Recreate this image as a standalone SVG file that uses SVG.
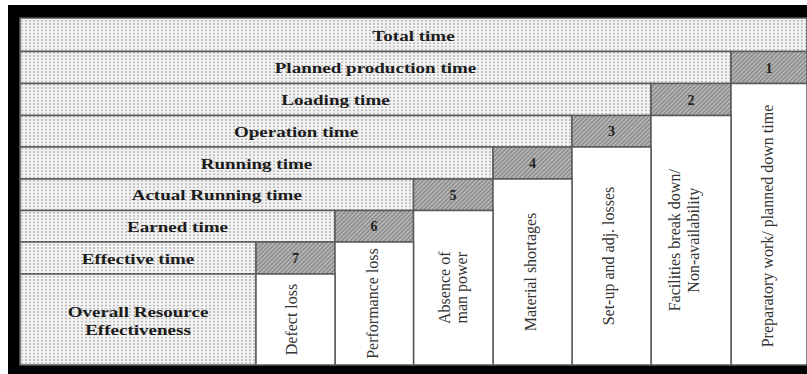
<svg xmlns="http://www.w3.org/2000/svg" width="807" height="374" viewBox="0 0 807 374">
  <defs>
    <pattern id="dots" width="4" height="3.2" patternUnits="userSpaceOnUse">
      <rect width="4" height="3.2" fill="#f2f2f2"/>
      <rect x="1" y="0.8" width="2" height="1.6" fill="#bdbdbd"/>
    </pattern>
    <pattern id="hatch" width="3" height="3" patternUnits="userSpaceOnUse" patternTransform="rotate(45)">
      <rect width="3" height="3" fill="#c4c4c4"/>
      <line x1="1" y1="0" x2="1" y2="3" stroke="#6e6e6e" stroke-width="1.2"/>
    </pattern>
    <style>
      .dot { fill: url(#dots); stroke: #5a5a5a; stroke-width: 1.5; }
      .hat { fill: url(#hatch); stroke: #5a5a5a; stroke-width: 1.5; }
      .wht { fill: #ffffff; stroke: #5a5a5a; stroke-width: 1.5; }
      .bl { font-family: "Liberation Serif", "Times New Roman", serif; font-weight: bold; font-size: 15px; fill: #1c1c1c; text-anchor: middle; }
      .num { font-family: "Liberation Serif", "Times New Roman", serif; font-weight: bold; font-size: 14px; fill: #222; text-anchor: middle; }
      .rt { font-family: "Liberation Serif", "Times New Roman", serif; font-size: 16px; fill: #333; text-anchor: middle; }
    </style>
  </defs>

  <rect x="0" y="0" width="807" height="374" fill="#ffffff"/>
  <rect x="8" y="5" width="799" height="369" fill="#000000"/>

  <!-- dotted time rows -->
  <g id="total-time">
    <rect class="dot" x="20" y="18" width="787" height="33.5"/>
    <text class="bl" transform="translate(413.5,40.5) scale(1.27,1)">Total time</text>
  </g>
  <g id="planned-production-time">
    <rect class="dot" x="20" y="51.5" width="711" height="32"/>
    <text class="bl" transform="translate(375.5,73) scale(1.27,1)">Planned production time</text>
  </g>
  <g id="loading-time">
    <rect class="dot" x="20" y="83.5" width="631" height="32"/>
    <text class="bl" transform="translate(335.5,105) scale(1.27,1)">Loading time</text>
  </g>
  <g id="operation-time">
    <rect class="dot" x="20" y="115.5" width="552" height="31.5"/>
    <text class="bl" transform="translate(296,136.8) scale(1.27,1)">Operation time</text>
  </g>
  <g id="running-time">
    <rect class="dot" x="20" y="147" width="473" height="32"/>
    <text class="bl" transform="translate(256.5,168.5) scale(1.27,1)">Running time</text>
  </g>
  <g id="actual-running-time">
    <rect class="dot" x="20" y="179" width="393.5" height="31.5"/>
    <text class="bl" transform="translate(216.75,200.3) scale(1.27,1)">Actual Running time</text>
  </g>
  <g id="earned-time">
    <rect class="dot" x="20" y="210.5" width="315" height="31.5"/>
    <text class="bl" transform="translate(177.5,231.8) scale(1.27,1)">Earned time</text>
  </g>
  <g id="effective-time">
    <rect class="dot" x="20" y="242" width="236" height="32"/>
    <text class="bl" transform="translate(138,263.5) scale(1.27,1)">Effective time</text>
  </g>
  <g id="ore">
    <rect class="dot" x="20" y="274" width="236" height="91"/>
    <text class="bl" transform="translate(138,316.5) scale(1.27,1)">Overall Resource</text>
    <text class="bl" transform="translate(138,335) scale(1.27,1)">Effectiveness</text>
  </g>

  <!-- hatched loss numbers -->
  <g id="loss-1">
    <rect class="hat" x="731" y="51.5" width="76" height="32"/>
    <text class="num" x="769" y="72.5">1</text>
  </g>
  <g id="loss-2">
    <rect class="hat" x="651" y="83.5" width="80" height="32"/>
    <text class="num" x="691" y="104.5">2</text>
  </g>
  <g id="loss-3">
    <rect class="hat" x="572" y="115.5" width="79" height="31.5"/>
    <text class="num" x="611.5" y="136.3">3</text>
  </g>
  <g id="loss-4">
    <rect class="hat" x="493" y="147" width="79" height="32"/>
    <text class="num" x="532.5" y="168">4</text>
  </g>
  <g id="loss-5">
    <rect class="hat" x="413.5" y="179" width="79.5" height="31.5"/>
    <text class="num" x="453" y="199.8">5</text>
  </g>
  <g id="loss-6">
    <rect class="hat" x="335" y="210.5" width="78.5" height="31.5"/>
    <text class="num" x="374" y="231.3">6</text>
  </g>
  <g id="loss-7">
    <rect class="hat" x="256" y="242" width="79" height="32"/>
    <text class="num" x="295.5" y="263">7</text>
  </g>

  <!-- white loss descriptions -->
  <g id="preparatory">
    <rect class="wht" x="731" y="83.5" width="76" height="281.5"/>
    <text class="rt" transform="translate(769,226) rotate(-90)" y="4">Preparatory work/ planned down time</text>
  </g>
  <g id="facilities">
    <rect class="wht" x="651" y="115.5" width="80" height="249.5"/>
    <text class="rt" transform="translate(691,240.25) rotate(-90)" y="-11">Facilities break down/</text>
    <text class="rt" transform="translate(691,240.25) rotate(-90)" y="8">Non-availability</text>
  </g>
  <g id="setup">
    <rect class="wht" x="572" y="147" width="79" height="218"/>
    <text class="rt" transform="translate(611.5,256) rotate(-90)" y="2">Set-up and adj. losses</text>
  </g>
  <g id="material">
    <rect class="wht" x="493" y="179" width="79" height="186"/>
    <text class="rt" transform="translate(532.5,272) rotate(-90)" y="3">Material shortages</text>
  </g>
  <g id="absence">
    <rect class="wht" x="413.5" y="210.5" width="79.5" height="154.5"/>
    <text class="rt" transform="translate(453,287.75) rotate(-90)" y="-3">Absence of</text>
    <text class="rt" transform="translate(453,287.75) rotate(-90)" y="14">man power</text>
  </g>
  <g id="performance">
    <rect class="wht" x="335" y="242" width="78.5" height="123"/>
    <text class="rt" transform="translate(374,303.5) rotate(-90)" y="4">Performance loss</text>
  </g>
  <g id="defect">
    <rect class="wht" x="256" y="274" width="79" height="91"/>
    <text class="rt" transform="translate(295.5,319.5) rotate(-90)" y="1">Defect loss</text>
  </g>
</svg>
